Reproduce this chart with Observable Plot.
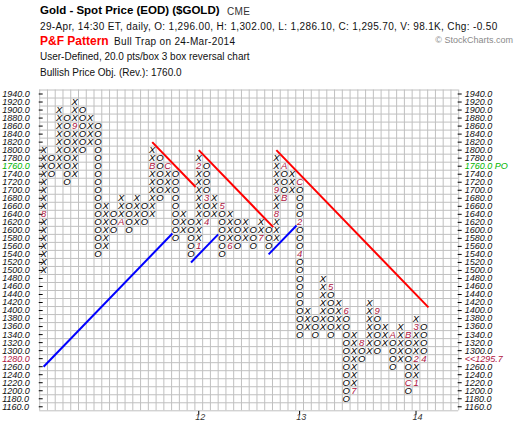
<!DOCTYPE html>
<html><head><meta charset="utf-8">
<script src="https://cdn.jsdelivr.net/npm/d3@7"></script>
<script src="https://cdn.jsdelivr.net/npm/@observablehq/plot@0.6"></script>
<style>
body{margin:0;background:#fff;}
#wrap{position:relative;width:520px;height:434px;overflow:hidden;font-family:"Liberation Sans",Arial,sans-serif;color:#111;}
#wrap svg{position:absolute;left:0;top:0;}
.h{position:absolute;white-space:nowrap;line-height:1;font-size:10px;}
</style></head><body><div id="wrap">
<div class="h" style="left:40px;top:5.3px;font-size:11.5px;font-weight:bold;color:#000;">Gold - Spot Price (EOD) ($GOLD)</div>
<div class="h" style="left:227px;top:6.5px;color:#333;letter-spacing:0.3px;">CME</div>
<div class="h" style="left:40px;top:22px;letter-spacing:0.35px;">29-Apr, 14:30 ET, daily, O: 1,296.00, H: 1,302.00, L: 1,286.10, C: 1,295.70, V: 98.1K, Chg: -0.50</div>
<div class="h" style="left:40px;top:34.8px;font-size:12px;font-weight:bold;color:#ff0000;">P&amp;F Pattern</div>
<div class="h" style="left:114px;top:36.5px;letter-spacing:0.33px;">Bull Trap on 24-Mar-2014</div>
<div class="h" style="left:40px;top:52px;">User-Defined, 20.0 pts/box 3 box reversal chart</div>
<div class="h" style="left:40px;top:67.5px;">Bullish Price Obj. (Rev.): 1760.0</div>
<div class="h" style="right:7px;top:35.5px;font-size:9px;color:#8a8a8a;">© StockCharts.com</div>
</div>
<script>
// P&F columns (box size 20)
const colType = ["X","O","X","O","X","O","X","O","X","O","X","O","X","O","X","O","X","O","X","O","X","O","X","O","X","O","X","O","X","O","X","O","X","O","X","O","X","O","X","O","X","O","X","O","X","O","X","O","X","O"];
const colLow  = [1500,1740,1760,1720,1740,1800,1820,1540,1560,1600,1620,1600,1620,1620,1640,1680,1700,1580,1600,1540,1560,1620,1640,1540,1560,1560,1580,1560,1580,1560,1580,1680,1700,1340,1360,1340,1360,1340,1360,1180,1200,1280,1300,1300,1320,1260,1280,1200,1220,1280];
const colHigh = [1800,1780,1900,1880,1920,1900,1880,1860,1660,1640,1680,1660,1680,1660,1800,1780,1760,1740,1640,1620,1780,1760,1680,1660,1640,1620,1620,1600,1620,1600,1780,1760,1740,1720,1400,1380,1480,1460,1420,1400,1340,1320,1420,1400,1360,1340,1360,1340,1380,1360];

// month markers
const monthCol  = [0,4,10,14,16,20,20,21,21,23,24,28,30,30,31,31,33,33,33,37,39,40,41,43,45,47,47,48,48,48,49];
const monthVal  = [1640,1860,1620,1760,1760,1560,1760,1680,1620,1660,1560,1580,1640,1700,1760,1680,1720,1620,1540,1460,1400,1200,1320,1400,1340,1340,1220,1220,1280,1360,1280];
const monthText = ["8","9","A","B","C","1","2","3","4","5","6","7","8","9","A","B","C","2","4","5","6","7","8","9","A","B","C","1","2","3","4"];

// year labels
const yearCol  = [20,33,48];
const yearText = ["12","13","14"];

// price axis labels
const priceTicks = [1940,1920,1900,1880,1860,1840,1820,1800,1780,1760,1740,1720,1700,1680,1660,1640,1620,1600,1580,1560,1540,1520,1500,1480,1460,1440,1420,1400,1380,1360,1340,1320,1300,1280,1260,1240,1220,1200,1180,1160];
const priceObjective = 1760;
const lastPriceRow = 1280;
const lastPrice = 1295.7;

// trend lines
const trendX1 = [14, 20, 30, 0, 19, 29];
const trendY1 = [1820, 1800, 1800, 1260, 1520, 1540];
const trendX2 = [19.6, 29.6, 49.6, 16.6, 22.5, 32.6];
const trendY2 = [1708, 1608, 1408, 1592, 1590, 1612];
const trendColor = ["#ff0000","#ff0000","#ff0000","#0000ff","#0000ff","#0000ff"];

const monthColor = "#b0153f";
const greenColor = "#00b400";

// build tables
const monthKey = new Set(monthCol.map((c,i)=>c+"_"+monthVal[i]));
const cells = [];
colType.forEach((t,c)=>{
  for (let v = colLow[c]; v <= colHigh[c]; v += 20) {
    if (!monthKey.has(c+"_"+v)) cells.push({c, v, t});
  }
});
const months = monthCol.map((c,i)=>({c, v: monthVal[i], t: monthText[i]}));
const years = yearCol.map((c,i)=>({c, t: yearText[i]}));
const trends = trendX1.map((x,i)=>({x1:x, y1:trendY1[i], x2:trendX2[i], y2:trendY2[i], color:trendColor[i]}));
const nCols = 54;
const gridCols = d3.range(-0.5, nCols, 1);
const gridRows = d3.range(1150, 1951, 20);

const leftColor = v => v === priceObjective ? greenColor : (v === lastPriceRow ? monthColor : "#111");
const leftText = v => v.toFixed(1);
const rightText = v => v === priceObjective ? v.toFixed(1) + " PO" : (v === lastPriceRow ? "<<" + lastPrice.toFixed(1) : v.toFixed(1));

const chart = Plot.plot({
  width: 520, height: 434,
  marginLeft: 39.2, marginRight: 61.8, marginTop: 89.5, marginBottom: 23.7,
  x: {domain: [-0.5, nCols - 0.5], axis: null},
  y: {domain: [1150, 1950], axis: null},
  color: {type: "identity"},
  style: {background: "transparent", fontFamily: "'Liberation Sans', Arial, sans-serif", overflow: "visible"},
  marks: [
    Plot.ruleX(gridCols, {x: d => d, y1: 1150, y2: 1950, stroke: "#c0c0c0", strokeWidth: 1}),
    Plot.ruleY(gridRows, {y: d => d, x1: -0.5, x2: nCols - 0.5, stroke: "#c0c0c0", strokeWidth: 1}),
    Plot.ruleY(priceTicks, {y: d => d, x1: -0.56, x2: -0.05, stroke: "#000", strokeWidth: 1}),
    Plot.ruleY(priceTicks, {y: d => d, x1: nCols - 0.57, x2: nCols - 0.05, stroke: "#000", strokeWidth: 1}),
    Plot.text(priceTicks, {y: d => d, text: leftText, frameAnchor: "left", textAnchor: "start", dx: -37.5, fill: leftColor, fontStyle: "italic", fontSize: 9}),
    Plot.text(priceTicks, {y: d => d, text: rightText, frameAnchor: "right", textAnchor: "start", dx: 6, fill: leftColor, fontStyle: "italic", fontSize: 9}),
    Plot.text(cells, {x: "c", y: "v", text: "t", fill: "#000", fontStyle: "italic", fontSize: 9.5}),
    Plot.text(months, {x: "c", y: "v", text: "t", fill: monthColor, fontStyle: "italic", fontSize: 9.5}),
    Plot.link(trends, {x1: "x1", y1: "y1", x2: "x2", y2: "y2", stroke: "color", strokeWidth: 2}),
    Plot.ruleX(years, {x: "c", y1: 1139.5, y2: 1148.5, stroke: "#000", strokeWidth: 1}),
    Plot.text(years, {x: "c", text: "t", frameAnchor: "bottom", dy: 9, dx: 1.5, fill: "#333", fontStyle: "italic", fontSize: 9})
  ]
});
const wrap = document.getElementById("wrap");
wrap.insertBefore(chart, wrap.firstChild);
</script></body></html>
